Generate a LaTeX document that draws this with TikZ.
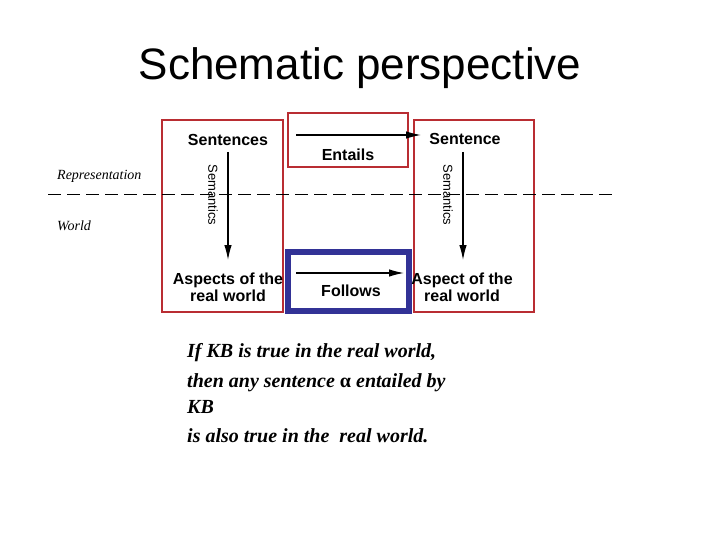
\documentclass[tikz,border=0pt]{standalone}
\usepackage{fontspec}
\setmainfont{Liberation Serif}
\newfontfamily\arialf{Liberation Sans}
\usetikzlibrary{arrows.meta}
\definecolor{boxred}{RGB}{185,45,50}
\definecolor{boxblue}{RGB}{50,50,150}
\tikzset{
  redbox/.style={draw=boxred,line width=2.2pt},
  bluebox/.style={draw=boxblue,line width=6pt},
  lbl/.style={font=\arialf\bfseries\fontsize{16}{17}\selectfont,align=center,inner sep=0pt},
  semlbl/.style={font=\arialf\fontsize{13}{14}\selectfont,rotate=-90,inner sep=0pt},
  arr/.style={line width=1.2pt,-{Latex[length=15pt,width=7.5pt]}},
  sidelbl/.style={font=\itshape\fontsize{14}{15}\selectfont,anchor=west,inner sep=0pt},
  bodytxt/.style={font=\bfseries\itshape\fontsize{20}{21}\selectfont,anchor=west,inner sep=0pt}
}
\begin{document}
\begin{tikzpicture}[x=1pt,y=-1pt]
\useasboundingbox (0,0) rectangle (720,540);
\node[font=\arialf\fontsize{44}{48}\selectfont,inner sep=0pt] (title) at (360,68) {Schematic perspective};
% boxes
\node[redbox,minimum width=121pt,minimum height=192pt,inner sep=0pt] (lbox) at (222.5,216) {};
\node[redbox,minimum width=120pt,minimum height=54pt,inner sep=0pt] (ebox) at (348,140) {};
\node[redbox,minimum width=120pt,minimum height=192pt,inner sep=0pt] (rbox) at (474,216) {};
\node[bluebox,minimum width=121pt,minimum height=59pt,inner sep=0pt] (fbox) at (348.5,281.5) {};
% dashed line
\coordinate (dl) at (48,195);
\coordinate (dr) at (616,195);
\draw[dash pattern=on 13pt off 6pt,line width=1pt] (dl) -- (dr);
\node[sidelbl] (rep) at (57,176) {Representation};
\node[sidelbl] (wld) at (57,226) {World};
% left column
\node[lbl] (sents) at (228,140) {Sentences};
\node[lbl] (asp1) at (228,287) {Aspects of the\\real world};
\coordinate (la) at (228,152);
\coordinate (lb) at (228,260);
\draw[arr] (la) -- (lb);
\node[semlbl] (sem1) at (213,195) {Semantics};
% right column
\node[lbl] (sent) at (465,139) {Sentence};
\node[lbl] (asp2) at (462,287) {Aspect of the\\real world};
\coordinate (ra) at (463,152);
\coordinate (rb) at (463,260);
\draw[arr] (ra) -- (rb);
\node[semlbl] (sem2) at (448,195) {Semantics};
% entails
\node[lbl] (ent) at (348,155) {Entails};
\coordinate (ea) at (296,135);
\coordinate (eb) at (421,135);
\draw[arr] (ea) -- (eb);
% follows
\node[lbl] (fol) at (351,291) {Follows};
\coordinate (fa) at (296,273);
\coordinate (fb) at (404,273);
\draw[arr] (fa) -- (fb);
% body text
\node[bodytxt] (t1) at (187,353) {If KB is true in the real world,};
\node[bodytxt] (t2) at (187,383) {then any sentence {\upshape α} entailed by};
\node[bodytxt] (t3) at (187,407) {KB};
\node[bodytxt] (t4) at (187,436) {is also true in the\ \ real world.};
\end{tikzpicture}
\end{document}
